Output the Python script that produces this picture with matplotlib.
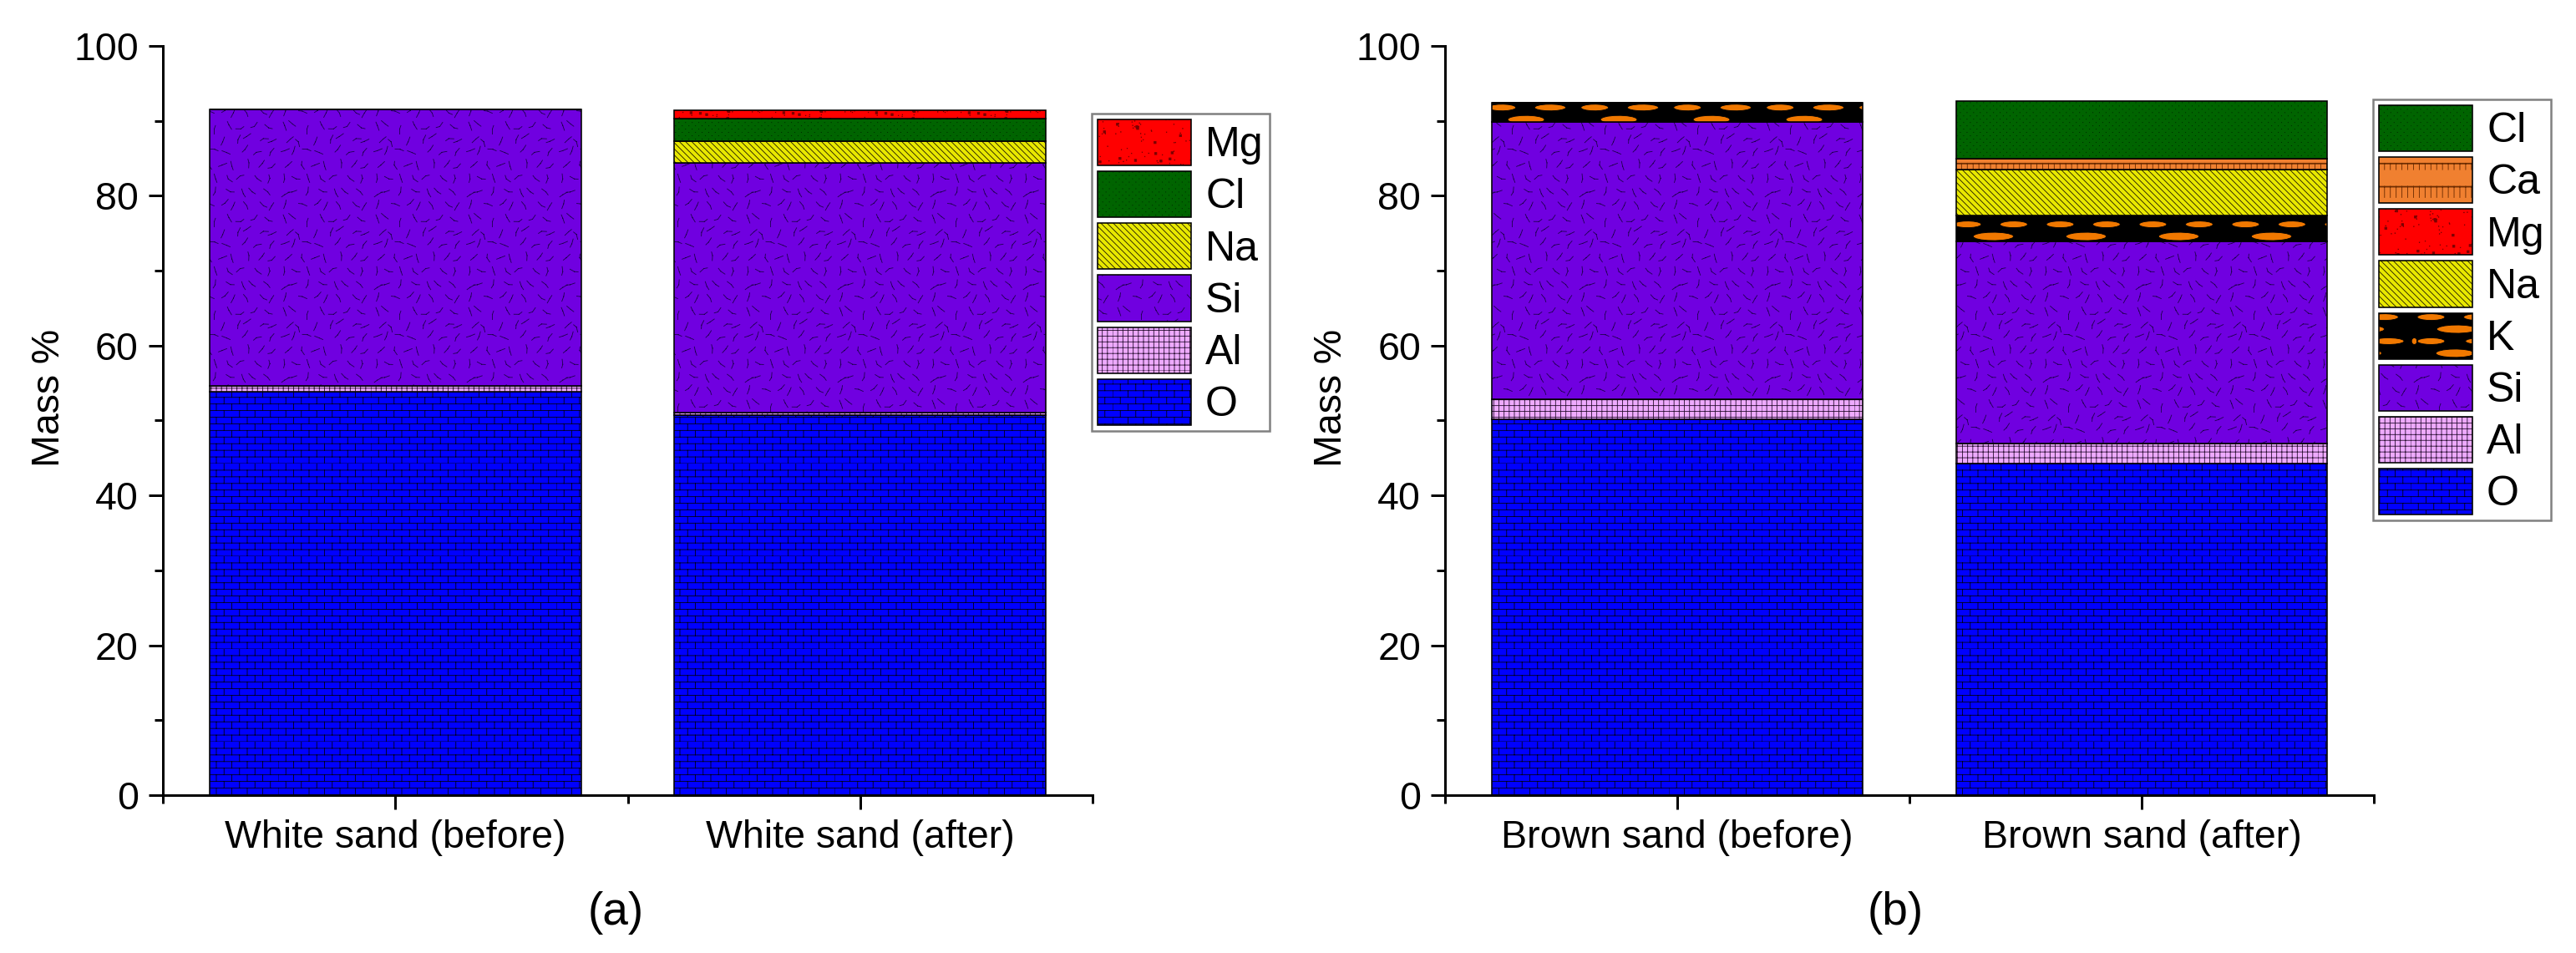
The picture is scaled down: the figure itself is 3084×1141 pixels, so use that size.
import numpy as np
import matplotlib
matplotlib.use("Agg")
import matplotlib.pyplot as plt
from matplotlib import hatch as mhatch
from matplotlib.colors import to_rgba
from matplotlib.path import Path

# bars, bottom to top
labels_a = ["White sand (before)", "White sand (after)"]
labels_b = ["Brown sand (before)", "Brown sand (after)"]
elements_a = ["O", "Al", "Si", "Na", "Cl", "Mg"]
elements_b = ["O", "Al", "Si", "K", "Na", "Mg", "Ca", "Cl"]

O_a = [53.9, 50.7]
Al_a = [0.7, 0.4]
Si_a = [36.9, 33.3]
Na_a = [0.0, 2.9]
Cl_a = [0.0, 3.0]
Mg_a = [0.0, 1.1]

O_b = [50.2, 44.3]
Al_b = [2.6, 2.6]
Si_b = [37.1, 27.0]
K_b = [2.5, 3.5]
Na_b = [0.0, 6.1]
Mg_b = [0.0, 0.0]
Ca_b = [0.0, 1.5]
Cl_b = [0.0, 7.6]

DPI = 111  # hatch tile is one inch, this makes it 111 px like the original
W, H = 3084, 1141
FS = 50 * 72 / DPI

plt.rcParams["font.family"] = ["Liberation Sans", "DejaVu Sans"]
plt.rcParams["hatch.linewidth"] = 0.85 * 72 / DPI


def segs(lines):
    v = np.array(lines, dtype=float).reshape(-1, 2)
    c = np.tile([Path.MOVETO, Path.LINETO], len(v) // 2)
    return Path(v, c)


def scatter_val(i, k):
    # fixed texture jitter, no rng needed
    return (np.sin(i * 12.9898 + k * 78.233) * 43758.5453) % 1


def brick_tex():
    lines = []
    rows, cols = 14, 6
    for r in range(rows):
        y = r / rows
        lines.append([(0, y), (1, y)])
        for k in range(cols):
            x = (k + (0.5 if r % 2 else 0)) / cols
            lines.append([(x, y), (x, y + 1 / rows)])
    return segs(lines)


def grid_tex():
    lines = []
    for i in range(18):
        lines.append([(i / 18, 0), (i / 18, 1)])
    for i in range(16):
        lines.append([(0, i / 16), (1, i / 16)])
    return segs(lines)


def squiggle_tex():
    # one bent stroke per cell keeps the spread even
    lines = []
    n = 7
    for r in range(n):
        for k in range(n):
            i = r * n + k
            cx = (k + 0.5 + (0.25 if r % 2 else -0.25) + 0.5 * (scatter_val(i, 1) - 0.5)) / n
            cy = (r + 0.5 + 0.5 * (scatter_val(i, 2) - 0.5)) / n
            cx = min(max(cx, 0.07), 0.93)
            cy = min(max(cy, 0.07), 0.93)
            a = 2 * np.pi * scatter_val(i, 3)
            b = a + 1.4 * (scatter_val(i, 4) - 0.5)
            l1, l2 = 0.055, 0.04
            lines.append([(cx, cy), (cx + l1 * np.cos(a), cy + l1 * np.sin(a))])
            lines.append([(cx, cy), (cx - l2 * np.cos(b), cy - l2 * np.sin(b))])
    return segs(lines)


def stripe_tex():
    lines = []
    n = 15
    for i in range(n):
        x = i / n
        lines.append([(x, 1), (x + 1, 0)])
        lines.append([(x - 1, 1), (x, 0)])
    return segs(lines)


def check_tex():
    lines = []
    n = 28
    for r in range(n):
        for k in range(n // 2):
            x = (k + (0.5 if r % 2 else 0)) * 2 / n
            y = r / n
            lines.append([(x, y), (x + 0.002, y)])
    return segs(lines)


def dots_tex():
    verts, codes = [], []
    for i in range(150):
        x = 0.03 + 0.94 * scatter_val(i, 5)
        y = 0.03 + 0.94 * scatter_val(i, 6)
        r = 0.011 if i % 5 == 0 else 0.002
        verts += [(x - r, y - r), (x + r, y - r), (x + r, y + r), (x - r, y + r), (x - r, y - r)]
        codes += [Path.MOVETO, Path.LINETO, Path.LINETO, Path.LINETO, Path.CLOSEPOLY]
    return Path(verts, codes)


def ruler_tex():
    lines = []
    for r in range(4):
        y = (r + 1) / 4 - 0.01
        lines.append([(0, y), (1, y)])
        lines.append([(0, y - 0.008), (1, y - 0.008)])
        for k in range(16):
            x = (k + 0.5) / 16
            lines.append([(x, y), (x, y - (0.12 if r % 2 else 0.07))])
    return segs(lines)


def blob_tex():
    # black tile with orange lens shaped holes
    verts = [(0, 0), (1, 0), (1, 1), (0, 1), (0, 0)]
    codes = [Path.MOVETO, Path.LINETO, Path.LINETO, Path.LINETO, Path.CLOSEPOLY]
    blobs = [(0.22, 0.06, 0.30), (0.74, 0.06, 0.30), (0.48, 0.19, 0.42), (0.04, 0.32, 0.06),
             (0.22, 0.32, 0.30), (0.76, 0.32, 0.34), (0.5, 0.45, 0.44), (0.22, 0.58, 0.3),
             (0.72, 0.58, 0.3), (0.46, 0.71, 0.40), (0.2, 0.84, 0.3), (0.72, 0.84, 0.34),
             (0.5, 0.96, 0.4)]
    t = np.linspace(0, 2 * np.pi, 18)[:-1]
    for cx, cy, w in blobs:
        hh = 0.045 if w > 0.35 else 0.036
        # clockwise so it cuts a hole
        px = np.clip(cx + w / 2 * np.cos(-t), 0.005, 0.995)
        py = np.clip(cy + hh * np.sin(-t), 0.005, 0.995)
        pts = list(zip(px, py))
        verts += pts + [pts[0]]
        codes += [Path.MOVETO] + [Path.LINETO] * (len(pts) - 1) + [Path.CLOSEPOLY]
    return Path(verts, codes)


TEXTURES = {"O": brick_tex(), "+": grid_tex(), "x": squiggle_tex(), "/": stripe_tex(),
            ".": check_tex(), "*": dots_tex(), "|": ruler_tex(), "o": blob_tex()}


class TexturePattern(mhatch.HatchPatternBase):
    def __init__(self, hatch, density):
        self.tex = TEXTURES.get(hatch[0]) if hatch else None
        self.num_vertices = 0 if self.tex is None else len(self.tex.vertices)

    def set_vertices_and_codes(self, vertices, codes):
        vertices[:] = self.tex.vertices
        codes[:] = self.tex.codes


mhatch._hatch_types = [TexturePattern]

# element: face colour, hatch key, hatch colour
STYLES = {
    "O": ("#0000ff", "O", "#000018"),
    "Al": ("#eeaaff", "+", "#2a1030"),
    "Si": ("#7000e0", "x", "#200050"),
    "Na": ("#e8e800", "/", "#201800"),
    "Cl": ("#006400", ".", "#002000"),
    "Mg": ("#ff0000", "*", "#7a0000"),
    "Ca": ("#f08030", "|", "#6a2a00"),
    "K": ("#f07800", "o", "#000000"),
}


def stacked(ax, names, values, labels):
    x = np.array([1, 2])
    bottom = np.zeros(2)
    handles = []
    for name, vals in zip(names, values):
        face, key, hcol = STYLES[name]
        bars = ax.bar(x, vals, 0.8, bottom=bottom, color=face, edgecolor="black",
                      linewidth=1.6 * 72 / DPI, hatch=key, label=name)
        for p in bars:
            p._hatch_color = to_rgba(hcol)
        handles.append(bars)
        bottom = bottom + np.array(vals)

    ax.set_xlim(0.5, 2.5)
    ax.set_ylim(0, 100)
    ax.set_xticks(x, labels)
    ax.set_xticks([0.5, 1.5, 2.5], minor=True)
    ax.set_yticks(range(0, 101, 20))
    ax.set_yticks(range(10, 100, 20), minor=True)
    ax.spines[["top", "right"]].set_visible(False)
    ax.spines[["left", "bottom"]].set_linewidth(3 * 72 / DPI)
    ax.tick_params(which="major", length=17 * 72 / DPI, width=3 * 72 / DPI, labelsize=FS * 0.93,
                   pad=12 * 72 / DPI)
    ax.tick_params(which="minor", length=10 * 72 / DPI, width=3 * 72 / DPI)
    ax.set_ylabel("Mass %", fontsize=FS * 0.93)
    ax.yaxis.set_label_coords(-114 / (ax.get_position().width * W), 0.53)
    return handles


def add_axes_px(left, right):
    top, bot = 55, 952
    return fig.add_axes([left / W, 1 - bot / H, (right - left) / W, (bot - top) / H])


def legend_px(ax, handles, names, x0, y0):
    handle_pts = [h[0] for h in handles][::-1]
    leg = ax.legend(handle_pts, names[::-1], fontsize=FS, loc="upper left",
                    bbox_to_anchor=(x0 / W, 1 - y0 / H), bbox_transform=fig.transFigure,
                    frameon=True, fancybox=False, framealpha=1, edgecolor="#808080",
                    handlelength=112 / 50, handleheight=1.32, labelspacing=0.14,
                    handletextpad=17 / 50, borderpad=0.14, borderaxespad=0)
    leg.get_frame().set_linewidth(2.5 * 72 / DPI)
    for h, src in zip(leg.legend_handles, handle_pts):
        h._hatch_color = src._hatch_color
    return leg


fig = plt.figure(figsize=(W / DPI, H / DPI), dpi=DPI)

ax_a = add_axes_px(195, 1308)
hs = stacked(ax_a, elements_a, [O_a, Al_a, Si_a, Na_a, Cl_a, Mg_a], labels_a)
legend_px(ax_a, hs, elements_a, 1307, 136)

ax_b = add_axes_px(1730, 2842)
hs = stacked(ax_b, elements_b, [O_b, Al_b, Si_b, K_b, Na_b, Mg_b, Ca_b, Cl_b], labels_b)
legend_px(ax_b, hs, elements_b, 2841, 119)

fig.text(737 / W, 1 - 1093 / H, "(a)", fontsize=FS * 1.1, ha="center", va="center")
fig.text(2269 / W, 1 - 1093 / H, "(b)", fontsize=FS * 1.1, ha="center", va="center")

fig.savefig("out.png", dpi=DPI)
